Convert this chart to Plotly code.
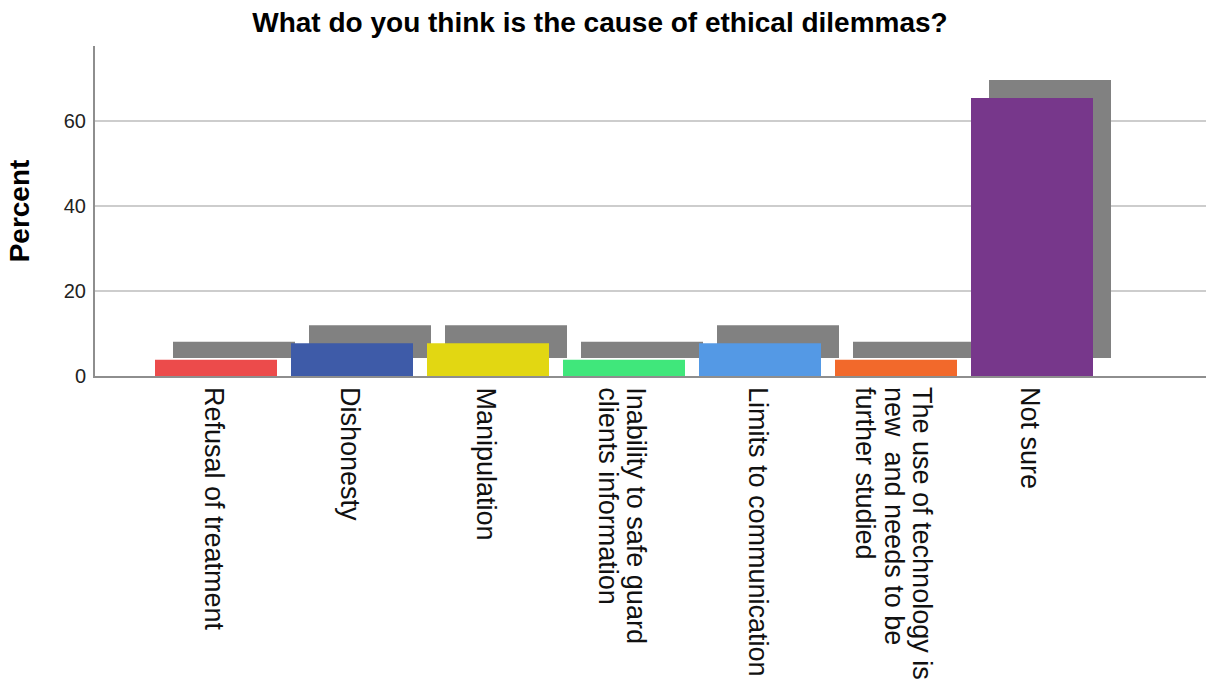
import plotly.graph_objects as go

# ---- data ----
categories = [
    "Refusal of treatment",
    "Dishonesty",
    "Manipulation",
    "Inability to safe guard\nclients information",
    "Limits to communication",
    "The use of technology is\nnew  and needs to be\nfurther studied",
    "Not sure",
]
percent = [3.8, 7.7, 7.7, 3.8, 7.7, 3.8, 65.4]
bar_colors = ["#EC4B4B", "#3E5BA8", "#E2D712", "#40E77B", "#5499E5", "#F2692B", "#77378B"]
y_ticks = [0, 20, 40, 60]

# ---- layout constants (pixels) ----
W, H = 1206, 686
ML, MR, MT, MB = 95, 0, 46, 310
PX_PER_CAT = 136.0
FIRST_CENTER_PX = 216.0
PX_PER_UNIT_Y = 4.25
SHADOW_PX = 18.0

x_idx = list(range(len(categories)))
x_lo = (ML - FIRST_CENTER_PX) / PX_PER_CAT
x_hi = (W - MR - FIRST_CENTER_PX) / PX_PER_CAT
y_hi = (H - MT - MB) / PX_PER_UNIT_Y
shadow_dx = SHADOW_PX / PX_PER_CAT
shadow_dy = SHADOW_PX / PX_PER_UNIT_Y
bar_w = 122.0 / PX_PER_CAT

fig = go.Figure()
fig.add_trace(go.Bar(
    x=[i + shadow_dx for i in x_idx], y=percent, base=[shadow_dy] * len(percent),
    width=bar_w, marker=dict(color="#818181", line=dict(width=0)),
    hoverinfo="skip", showlegend=False,
))
fig.add_trace(go.Bar(
    x=x_idx, y=percent, width=bar_w,
    marker=dict(color=bar_colors, line=dict(width=0)),
    showlegend=False, hovertemplate="%{y}<extra></extra>",
))

# category labels: rotated, one annotation per line
LINE_PX = 28.5
annotations = []
for i, lab in enumerate(categories):
    lines = lab.split("\n")
    n = len(lines)
    for k, ln in enumerate(lines):
        dx = ((n - 1) / 2 - k) * LINE_PX / PX_PER_CAT
        annotations.append(dict(
            x=i + dx - 2 / PX_PER_CAT, xref="x", y=0, yref="paper",
            xanchor="center", yanchor="top", yshift=-9,
            text=ln, textangle=90, showarrow=False,
            font=dict(family="Liberation Sans, Arial, sans-serif", size=27, color="#111111"),
        ))

fig.update_layout(
    width=W, height=H,
    margin=dict(l=ML, r=MR, t=MT, b=MB),
    paper_bgcolor="white", plot_bgcolor="white",
    barmode="overlay",
    title=dict(
        text="<b>What do you think is the cause of ethical dilemmas?</b>",
        x=600 / W, xref="container", xanchor="center",
        y=1 - 22 / H, yref="container", yanchor="middle",
        font=dict(family="Liberation Sans, Arial, sans-serif", size=28, color="#000000"),
    ),
    annotations=annotations,
    xaxis=dict(
        range=[x_lo, x_hi], showticklabels=False, ticks="", showgrid=False,
        zeroline=False, showline=True, linecolor="#8E8E8E", linewidth=2,
    ),
    yaxis=dict(
        range=[0, y_hi], tickvals=y_ticks, ticks="", ticklabelstandoff=3,
        showgrid=True, gridcolor="#CDCDCD", gridwidth=1.5,
        zeroline=False, showline=True, linecolor="#8E8E8E", linewidth=2,
        tickfont=dict(family="Liberation Sans, Arial, sans-serif", size=20, color="#222222"),
        title=dict(text="<b>Percent</b>", standoff=26,
                   font=dict(family="Liberation Sans, Arial, sans-serif", size=28, color="#000000")),
    ),
)

fig.write_html("out.html")
